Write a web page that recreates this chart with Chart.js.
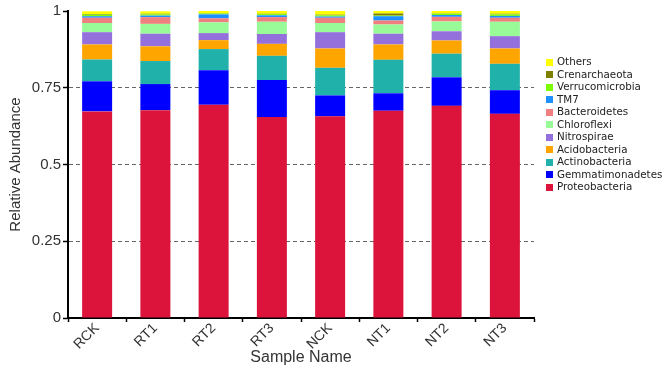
<!DOCTYPE html>
<html>
<head>
<meta charset="utf-8">
<script src="https://cdn.jsdelivr.net/npm/chart.js@4"></script>
<style>
  body { margin: 0; background: #fff; }
  #wrap { position: relative; width: 664px; height: 369px; }
  #legend { position: absolute; left: 546px; top: 55px; font: 10.3px "DejaVu Sans", sans-serif; color: #222; }
  .item { height: 12.5px; line-height: 12.5px; white-space: nowrap; }
  .box { display: inline-block; width: 7px; height: 7px; margin-right: 4px; vertical-align: -0.5px; }
</style>
</head>
<body>
<div id="wrap">
  <canvas id="chart" width="664" height="369"></canvas>
  <div id="legend"></div>
</div>
<script>
// 샘플 이름
const samples = ["RCK", "RT1", "RT2", "RT3", "NCK", "NT1", "NT2", "NT3"];

// 문(phylum)별 상대 풍부도 (아래에서 위 순서)
const proteobacteria   = [0.673, 0.677, 0.695, 0.655, 0.657, 0.675, 0.691, 0.665];
const gemmatimonadetes = [0.098, 0.085, 0.112, 0.120, 0.068, 0.057, 0.093, 0.077];
const actinobacteria   = [0.071, 0.075, 0.069, 0.079, 0.090, 0.109, 0.077, 0.086];
const acidobacteria    = [0.049, 0.048, 0.029, 0.039, 0.063, 0.050, 0.043, 0.050];
const nitrospirae      = [0.040, 0.041, 0.023, 0.032, 0.053, 0.035, 0.030, 0.040];
const chloroflexi      = [0.030, 0.032, 0.035, 0.040, 0.030, 0.030, 0.032, 0.047];
const bacteroidetes    = [0.017, 0.022, 0.013, 0.015, 0.017, 0.013, 0.015, 0.013];
const tm7              = [0.005, 0.005, 0.013, 0.006, 0.004, 0.014, 0.006, 0.006];
const verrucomicrobia  = [0.005, 0.004, 0.003, 0.004, 0.004, 0.002, 0.004, 0.005];
const crenarchaeota    = [0.002, 0.002, 0.001, 0.001, 0.002, 0.007, 0.001, 0.002];
const others           = [0.009, 0.008, 0.008, 0.009, 0.012, 0.008, 0.009, 0.009];

const yTicks = [0, 0.25, 0.5, 0.75, 1];

const series = [
  { label: "Proteobacteria", data: proteobacteria, color: "#DC143C" },
  { label: "Gemmatimonadetes", data: gemmatimonadetes, color: "#0000FF" },
  { label: "Actinobacteria", data: actinobacteria, color: "#20B2AA" },
  { label: "Acidobacteria", data: acidobacteria, color: "#FFA500" },
  { label: "Nitrospirae", data: nitrospirae, color: "#9370DB" },
  { label: "Chloroflexi", data: chloroflexi, color: "#98FB98" },
  { label: "Bacteroidetes", data: bacteroidetes, color: "#F08080" },
  { label: "TM7", data: tm7, color: "#1E90FF" },
  { label: "Verrucomicrobia", data: verrucomicrobia, color: "#7CFC00" },
  { label: "Crenarchaeota", data: crenarchaeota, color: "#808000" },
  { label: "Others", data: others, color: "#FFFF00" }
];

const datasets = series.map(s => ({
  label: s.label,
  data: s.data,
  backgroundColor: s.color,
  borderWidth: 0,
  barPercentage: 0.515,
  categoryPercentage: 1
}));

const tickFont = { family: "Liberation Sans", size: 14 };

new Chart(document.getElementById("chart"), {
  type: "bar",
  data: { labels: samples, datasets },
  options: {
    responsive: false,
    animation: false,
    layout: { padding: { top: 8, right: 130, left: 0, bottom: 0 } },
    plugins: {
      legend: { display: false },
      tooltip: { enabled: false }
    },
    scales: {
      x: {
        stacked: true,
        afterFit: scale => { scale.height = 51; },
        border: { color: "#000", width: 2 },
        grid: { drawOnChartArea: false, drawTicks: true, tickLength: 4, tickColor: "#000", tickWidth: 1.5 },
        ticks: { color: "#333", font: tickFont, minRotation: 45, maxRotation: 45, padding: -2 },
        title: { display: true, text: "Sample Name", color: "#333", font: { family: "Liberation Sans", size: 16 }, padding: { top: 0, bottom: 2 } }
      },
      y: {
        stacked: true,
        min: 0,
        max: 1,
        afterFit: scale => { scale.width = 68; },
        afterBuildTicks: scale => { scale.ticks = yTicks.map(v => ({ value: v })); },
        border: { color: "#000", width: 2, dash: [4, 3] },
        grid: {
          color: ctx => (ctx.tick && ctx.tick.value > 0 && ctx.tick.value < 1) ? "#666" : "rgba(0,0,0,0)",
          lineWidth: 1,
          drawTicks: true,
          tickLength: 5,
          tickColor: "#000",
          tickWidth: 1.5
        },
        ticks: {
          color: "#333",
          font: { family: "Liberation Sans", size: 15 },
          padding: 2,
          callback: value => String(value)
        },
        title: { display: true, text: "Relative Abundance", color: "#333", font: { family: "Liberation Sans", size: 15 }, padding: { top: 7, bottom: 2 } }
      }
    }
  }
});

// 범례 (위에서 아래: Others → Proteobacteria)
const legendEl = document.getElementById("legend");
series.slice().reverse().forEach(s => {
  const row = document.createElement("div");
  row.className = "item";
  row.innerHTML = `<span class="box" style="background:${s.color}"></span>${s.label}`;
  legendEl.appendChild(row);
});
</script>
</body>
</html>
